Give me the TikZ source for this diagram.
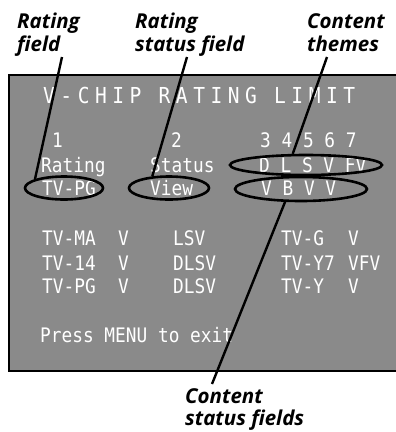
\documentclass[tikz,border=0pt]{standalone}
\usepackage{fontspec}
\setmainfont{Open Sans}
\newfontfamily\osd[FakeStretch=0.89]{DejaVu Sans Mono}
\usetikzlibrary{shapes.geometric}

\tikzset{
  callout/.style={font=\fontsize{20.5}{23}\selectfont\bfseries\itshape, align=left, anchor=base west, inner sep=0pt},
  osd/.style={text=white, font=\fontsize{20}{20}\selectfont\osd, anchor=base west, inner sep=0pt},
  ring/.style={ellipse, draw=black, line width=2.6pt, inner sep=0pt},
  pointer/.style={line width=2.4pt}
}

\begin{document}
\begin{tikzpicture}[x=1pt, y=-1pt]
        \useasboundingbox (0,0) rectangle (396,432);
        % screen
        \fill[black!46] (9,75) rectangle (400,371);
        \draw[line width=1.5pt] (400,75) -- (9,75) -- (9,371) -- (400,371);
        \node[osd, font=\fontsize{22}{22}\selectfont\osd\addfontfeature{LetterSpace=25}] (title) at (43,103) {V-CHIP RATING LIMIT};
        \node[osd] (colone) at (52,147) {1};
        \node[osd] (coltwo) at (171,147) {2};
        \node[osd] (colthree) at (260,147) {3 4 5 6 7};
        \node[osd] (hdrating) at (41,172) {Rating};
        \node[osd] (hdstatus) at (150,172) {Status};
        \node[osd] (hdthemes) at (259,172) {D L S V FV};
        \node[osd] (selrating) at (42,195) {TV-PG};
        \node[osd] (selstatus) at (150,195) {View};
        \node[osd] (selthemes) at (261,195) {V B V V};
        \node[osd] (marating) at (42,245) {TV-MA};
        \node[osd] (mastatus) at (118,245) {V};
        \node[osd] (mathemes) at (173,245) {LSV};
        \node[osd] (grating) at (281,245) {TV-G};
        \node[osd] (gstatus) at (348,245) {V};
        \node[osd] (frating) at (42,270) {TV-14};
        \node[osd] (fstatus) at (118,270) {V};
        \node[osd] (fthemes) at (173,270) {DLSV};
        \node[osd] (ysrating) at (281,270) {TV-Y7};
        \node[osd] (ysstatus) at (348,270) {VFV};
        \node[osd] (pgrating) at (42,293) {TV-PG};
        \node[osd] (pgstatus) at (118,293) {V};
        \node[osd] (pgthemes) at (173,293) {DLSV};
        \node[osd] (yrating) at (281,293) {TV-Y};
        \node[osd] (ystatus) at (348,293) {V};
        \node[osd] (exitmsg) at (40,342) {Press MENU to exit};
        % marked fields
        \node[ring, minimum width=78pt, minimum height=23pt] (elrating) at (64,188) {};
        \node[ring, minimum width=80pt, minimum height=23pt] (elstatus) at (169,188) {};
        \node[ring, minimum width=152pt, minimum height=20pt] (elthemes) at (306,165) {};
        \node[ring, minimum width=132pt, minimum height=24pt] (elcstat) at (301,189) {};
        % callouts
        \node[callout] (lblrating) at (17,51) {Rating\\field};
        \node[callout] (lblstatus) at (135,51) {Rating\\status field};
        \node[callout] (lblthemes) at (307,51) {Content\\themes};
        \node[callout, font=\fontsize{20.5}{22}\selectfont\bfseries\itshape] (lblcstat) at (185,425) {Content\\status fields};
        \coordinate (tipa) at (62,57);
        \coordinate (tipb) at (187,57);
        \coordinate (tipc) at (327,57);
        \coordinate (tipd) at (212,384);
        \draw[pointer] (tipa) -- (elrating.163);
        \draw[pointer] (tipb) -- (elstatus.145);
        \draw[pointer] (tipc) -- (elthemes.140);
        \draw[pointer] (elcstat.219) -- (tipd);
    \end{tikzpicture}
\end{document}
